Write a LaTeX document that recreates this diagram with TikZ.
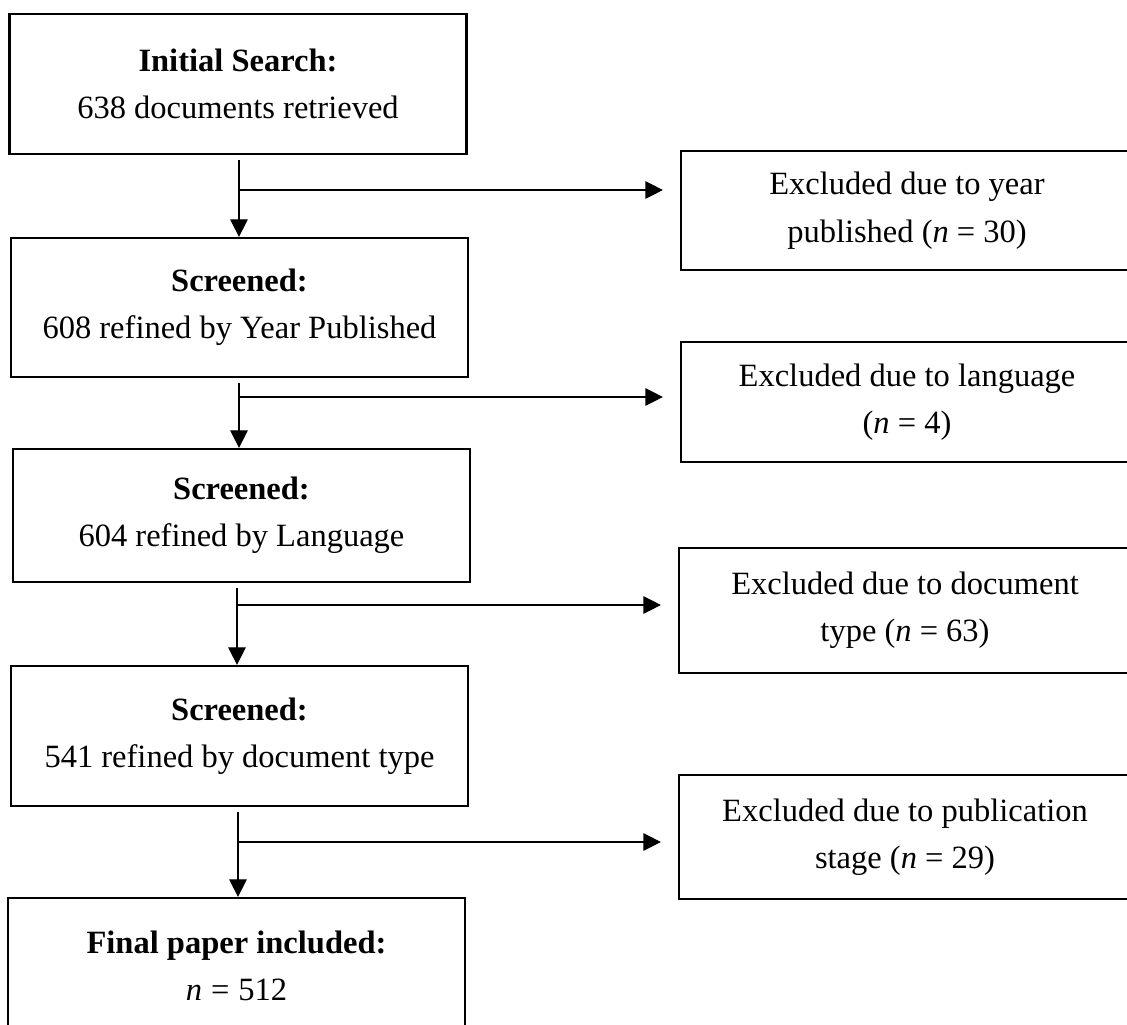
\documentclass[tikz,border=0pt]{standalone}
\usepackage{fontspec}
\setmainfont{Liberation Serif}
\usetikzlibrary{arrows.meta}

\begin{document}
\begin{tikzpicture}[x=0.02cm,y=-0.02cm,font=\fontsize{18.5}{27}\selectfont,
  mainbox/.style={draw,line width=1.3pt,minimum width=9.14cm,align=center,inner sep=0pt},
  sidebox/.style={draw,line width=1.3pt,minimum width=9.04cm,align=center,inner sep=0pt},
  flow/.style={line width=0.7pt,-{Triangle[length=0.35cm,width=0.35cm]}}]
\useasboundingbox (0,0) rectangle (1127,1025);
\node[mainbox,minimum height=2.8cm] (search) at (238,84) {\textbf{Initial Search:}\\638 documents retrieved};
\node[mainbox,minimum height=2.78cm] (byyear) at (239.5,307.5) {\textbf{Screened:}\\608 refined by Year Published};
\node[mainbox,minimum height=2.66cm] (bylang) at (241.5,515.5) {\textbf{Screened:}\\604 refined by Language};
\node[mainbox,minimum height=2.8cm] (bytype) at (239.5,736) {\textbf{Screened:}\\541 refined by document type};
\node[mainbox,minimum height=2.72cm] (final) at (236.5,966) {\textbf{Final paper included:}\\\textit{n}\;=\;512};
\node[sidebox,minimum height=2.38cm] (exyear) at (907,210.5) {Excluded due to year\\published (\textit{n} = 30)};
\node[sidebox,minimum height=2.4cm] (exlang) at (907,402) {Excluded due to language\\(\textit{n} = 4)};
\node[sidebox,minimum height=2.5cm] (extype) at (905,610.5) {Excluded due to document\\type (\textit{n} = 63)};
\node[sidebox,minimum height=2.48cm] (exstage) at (905,837) {Excluded due to publication\\stage (\textit{n} = 29)};
\coordinate (j1) at (239,190);
\coordinate (j2) at (239,397);
\coordinate (j3) at (237,605);
\coordinate (j4) at (238,842);
\draw[flow,shorten <=3pt] (j1 |- search.south) -- (j1 |- byyear.north);
\draw[flow,shorten <=3pt] (j2 |- byyear.south) -- (j2 |- bylang.north);
\draw[flow,shorten <=3pt] (j3 |- bylang.south) -- (j3 |- bytype.north);
\draw[flow,shorten <=3pt] (j4 |- bytype.south) -- (j4 |- final.north);
\draw[flow,shorten >=0.34cm] (j1) -- (j1 -| exyear.west);
\draw[flow,shorten >=0.34cm] (j2) -- (j2 -| exlang.west);
\draw[flow,shorten >=0.34cm] (j3) -- (j3 -| extype.west);
\draw[flow,shorten >=0.34cm] (j4) -- (j4 -| exstage.west);
\end{tikzpicture}
\end{document}
